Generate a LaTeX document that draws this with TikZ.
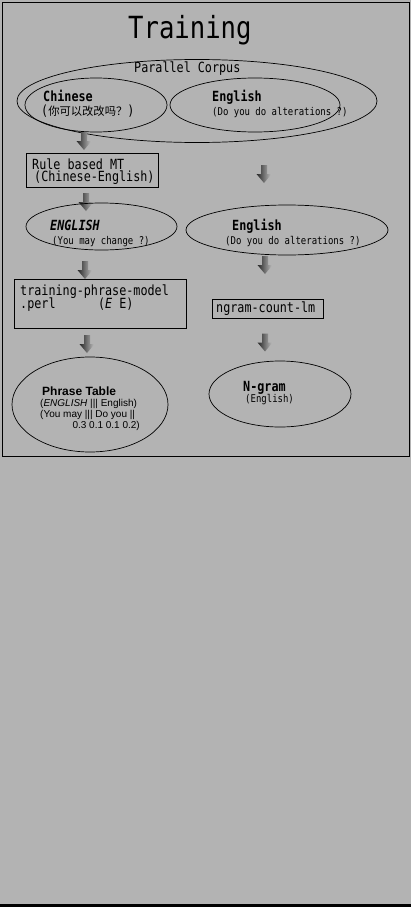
\documentclass[tikz,border=0pt]{standalone}
\usepackage{fontspec}
\newfontfamily\gothic[FakeStretch=0.84]{DejaVu Sans Mono}
\newfontfamily\cjk{Noto Sans CJK SC}
\newfontfamily\arialish{Liberation Sans}
\usetikzlibrary{shapes.geometric}
\definecolor{bggray}{RGB}{179,179,179}
\newcommand\titlesz{\gothic\fontsize{30.5}{32}\selectfont}
\newcommand\mainsz{\gothic\fontsize{14}{16}\selectfont}
\newcommand\smallsz{\gothic\fontsize{10.7}{12}\selectfont}
% block arrow pointing down, centred on a named coordinate
\newcommand\blockarrow[3]{%
  \coordinate (#1) at (#2,#3);
  \shade[left color=black!85, right color=black!25]
    ([shift={(-3,-9)}]#1) -- ([shift={(3,-9)}]#1) -- ([shift={(3,0)}]#1)
    -- ([shift={(7.5,0)}]#1) -- ([shift={(0,9)}]#1) -- ([shift={(-7.5,0)}]#1)
    -- ([shift={(-3,0)}]#1) -- cycle;}
\tikzset{
  bubble/.style={draw, ellipse, inner sep=0pt, line width=0.7pt},
  panel/.style={draw, rectangle, inner sep=0pt, line width=0.8pt},
  txt/.style={anchor=base west, inner sep=0pt}
}
\begin{document}
\begin{tikzpicture}[x=1pt,y=-1pt]
\fill[bggray] (0,0) rectangle (411,907);
\fill[black] (0,904) rectangle (411,907);
\draw[line width=1pt] (2.5,3) rectangle (409,456.8);
% title
\node[txt] (title) at (128,38) {\titlesz Training};
% parallel corpus
\node[bubble, minimum width=360pt, minimum height=83pt] (corpus) at (197,101) {};
\node[txt] (corpuslbl) at (134,73) {\mainsz Parallel Corpus};
\node[bubble, minimum width=142pt, minimum height=54pt] (zh) at (96,105) {};
\node[txt] (zhlbl) at (43,101.5) {\mainsz\bfseries Chinese};
\node[txt] (zhsent) at (41,115) {{\mainsz(}{\cjk\fontsize{11.3}{12}\selectfont 你可以改改吗？}{\mainsz)}};
\node[bubble, minimum width=170pt, minimum height=54pt] (en) at (255,105) {};
\node[txt] (enlbl) at (212,101.5) {\mainsz\bfseries English};
\node[txt] (ensent) at (212,115) {\smallsz(Do you do alterations ?)};
% left column
\blockarrow{a1}{84}{141}
\node[panel, minimum width=132pt, minimum height=34pt] (rbmt) at (92,170) {};
\node[txt] (rbmtlbl) at (32,169) {\mainsz Rule based MT};
\node[txt] (rbmtdir) at (34,181.5) {\mainsz(Chinese-English)};
\blockarrow{a3}{86}{202}
\node[bubble, minimum width=151pt, minimum height=47pt] (mt) at (101.5,226.5) {};
\node[txt] (mtlbl) at (50,230) {\mainsz\bfseries\itshape ENGLISH};
\node[txt] (mtsent) at (52,244) {\smallsz(You may change ?)};
\blockarrow{a4}{85}{270}
\node[panel, minimum width=172pt, minimum height=49pt] (tpm) at (100,303.5) {};
\node[txt] (tpmlbl) at (20,295) {\mainsz training-phrase-model};
\node[txt] (tpmext) at (20,308.5) {\mainsz.perl{ }{ }{ }{ }{ }{ }(\textit{E} E)};
\blockarrow{a6}{87}{344}
\node[bubble, minimum width=156pt, minimum height=95pt] (ptab) at (90,404.5) {};
\node[txt] (ptablbl) at (42,395.5) {\arialish\fontsize{12}{14}\selectfont\bfseries Phrase Table};
\node[txt] (ptab1) at (40,406) {\arialish\fontsize{10}{12}\selectfont(\textit{ENGLISH} ||| English)};
\node[txt] (ptab2) at (40,417) {\arialish\fontsize{10}{12}\selectfont(You may ||| Do you ||};
\node[anchor=base east, inner sep=0pt] (ptab3) at (140,428) {\arialish\fontsize{10}{12}\selectfont 0.3 0.1 0.1 0.2)};
% right column
\blockarrow{a2}{264}{174}
\node[bubble, minimum width=202pt, minimum height=50pt] (en2) at (287,230) {};
\node[txt] (en2lbl) at (232,230) {\mainsz\bfseries English};
\node[txt] (en2sent) at (225,244) {\smallsz(Do you do alterations ?)};
\blockarrow{a5}{265}{265}
\node[panel, minimum width=111pt, minimum height=19pt] (ngc) at (267.5,308.5) {};
\node[txt] (ngclbl) at (216,312.5) {\mainsz ngram-count-lm};
\blockarrow{a7}{265}{342.5}
\node[bubble, minimum width=142pt, minimum height=66pt] (lm) at (280,394) {};
\node[txt] (lmlbl) at (243,391.5) {\mainsz\bfseries N-gram};
\node[txt] (lmsub) at (245,402.5) {\smallsz(English)};
\end{tikzpicture}
\end{document}
